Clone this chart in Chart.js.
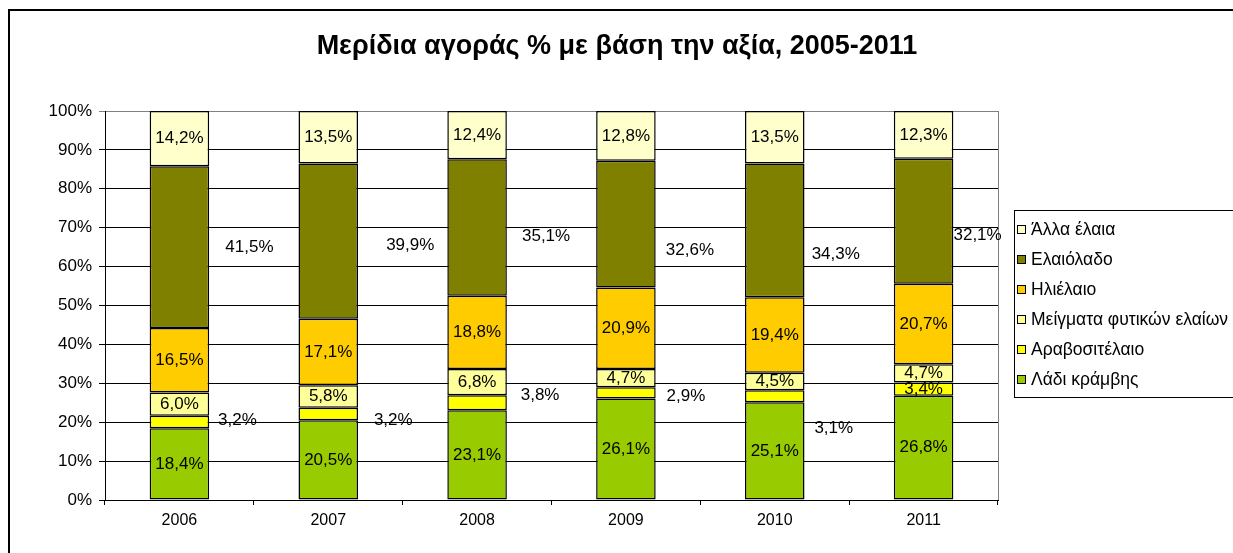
<!DOCTYPE html>
<html>
<head>
<meta charset="utf-8">
<script src="https://cdn.jsdelivr.net/npm/chart.js@4.4.0/dist/chart.umd.min.js"></script>
<style>
  html, body { margin: 0; padding: 0; background: #fff; }
  #wrap { width: 1233px; height: 553px; }
</style>
</head>
<body>
<div id="wrap"><canvas id="chart" width="1233" height="553"></canvas></div>
<script>
const years = ['2006', '2007', '2008', '2009', '2010', '2011'];
const rapeseed = [18.4, 20.5, 23.1, 26.1, 25.1, 26.8];
const corn = [3.2, 3.2, 3.8, 2.9, 3.1, 3.4];
const blends = [6.0, 5.8, 6.8, 4.7, 4.5, 4.7];
const sunflower = [16.5, 17.1, 18.8, 20.9, 19.4, 20.7];
const olive = [41.5, 39.9, 35.1, 32.6, 34.3, 32.1];
const other = [14.2, 13.5, 12.4, 12.8, 13.5, 12.3];
const yTicks = [0, 10, 20, 30, 40, 50, 60, 70, 80, 90, 100];

const series = [
    { label: 'Λάδι κράμβης', values: rapeseed, color: '#99CC00' },
    { label: 'Αραβοσιτέλαιο', values: corn, color: '#FFFF00' },
    { label: 'Μείγματα φυτικών ελαίων', values: blends, color: '#FFFF99' },
    { label: 'Ηλιέλαιο', values: sunflower, color: '#FFCC00' },
    { label: 'Ελαιόλαδο', values: olive, color: '#808000' },
    { label: 'Άλλα έλαια', values: other, color: '#FFFFCC' }
];

// 100% stacked: share of each year's total
const totals = years.map((y, i) => series.reduce((s, d) => s + d.values[i], 0));

const FONT = '"Liberation Sans", Arial, sans-serif';

// labels that Excel had dragged beside the bars
const labelShift = {
    1: { dx: [58, 65, 63, 60, 59, 0], dy: [-2, 6, -7, 3, 32, 0] },
    4: { dx: [70, 82, 69, 64, 61, 54], dy: [0, 4, 9, 26, 24, 14] }
};

const decor = {
    id: 'decor',
    beforeDraw(chart) {
        const ctx = chart.ctx;
        ctx.save();
        ctx.fillStyle = '#fff';
        ctx.fillRect(0, 0, chart.width, chart.height);
        ctx.strokeStyle = '#000';
        ctx.lineWidth = 2;
        ctx.strokeRect(9, 10, 1300, 600);
        ctx.restore();
    },
    afterDraw(chart) {
        const ctx = chart.ctx;
        const area = chart.chartArea;
        ctx.save();
        // right frame of plot area
        ctx.strokeStyle = '#808080';
        ctx.lineWidth = 1;
        ctx.beginPath();
        ctx.moveTo(Math.round(area.right) + 0.5, area.top);
        ctx.lineTo(Math.round(area.right) + 0.5, area.bottom);
        ctx.stroke();

        // title
        ctx.fillStyle = '#000';
        ctx.font = 'bold 27px ' + FONT;
        ctx.textAlign = 'center';
        ctx.textBaseline = 'middle';
        ctx.fillText('Μερίδια αγοράς % με βάση την αξία, 2005-2011', 617, 47);

        // data labels
        ctx.font = '17px ' + FONT;
        chart.data.datasets.forEach((ds, di) => {
            const meta = chart.getDatasetMeta(di);
            meta.data.forEach((bar, i) => {
                const shift = labelShift[di];
                const dx = shift ? shift.dx[i] : 0;
                const dy = shift ? shift.dy[i] : 0;
                const txt = ds.raw[i].toFixed(1).replace('.', ',') + '%';
                ctx.fillText(txt, bar.x + dx, (bar.y + bar.base) / 2 + dy);
            });
        });

        // legend
        ctx.strokeStyle = '#000';
        ctx.lineWidth = 1;
        ctx.strokeRect(1014.5, 210.5, 260, 187);
        ctx.textAlign = 'left';
        ctx.font = '17.5px ' + FONT;
        const items = chart.data.datasets.slice().reverse();
        items.forEach((ds, k) => {
            const cy = 230 + k * 30;
            ctx.fillStyle = ds.backgroundColor;
            ctx.fillRect(1017.5, cy - 4.5, 8, 8);
            ctx.strokeRect(1017.5, cy - 4.5, 8, 8);
            ctx.fillStyle = '#000';
            ctx.fillText(ds.label, 1031, cy);
        });
        ctx.restore();
    }
};

new Chart(document.getElementById('chart'), {
    type: 'bar',
    data: {
        labels: years,
        datasets: series.map(s => ({
            label: s.label,
            raw: s.values,
            data: s.values.map((v, i) => v / totals[i] * 100),
            backgroundColor: s.color,
            borderColor: '#000',
            borderWidth: 1.5,
            borderSkipped: false,
            barPercentage: 0.4,
            categoryPercentage: 1
        }))
    },
    options: {
        responsive: false,
        animation: false,
        layout: { padding: { top: 111, right: 235, left: 0, bottom: 0 } },
        plugins: {
            legend: { display: false },
            title: { display: false },
            tooltip: { enabled: false }
        },
        scales: {
            x: {
                stacked: true,
                afterFit(scale) { scale.height = 53; },
                grid: { drawOnChartArea: false, drawTicks: true, tickLength: 5, color: '#000', offset: true },
                border: { color: '#000' },
                ticks: { color: '#000', font: { family: FONT, size: 16 }, padding: 6 }
            },
            y: {
                stacked: true,
                min: 0,
                max: 100,
                afterFit(scale) { scale.width = 105; },
                afterBuildTicks(scale) { scale.ticks = yTicks.map(v => ({ value: v })); },
                grid: {
                    color: c => (c.tick && c.tick.value === 100 ? '#808080' : '#000'),
                    tickLength: 6
                },
                border: { color: '#000' },
                ticks: {
                    color: '#000',
                    font: { family: FONT, size: 17 },
                    padding: 7,
                    callback: v => v + '%'
                }
            }
        }
    },
    plugins: [decor]
});
</script>
</body>
</html>
